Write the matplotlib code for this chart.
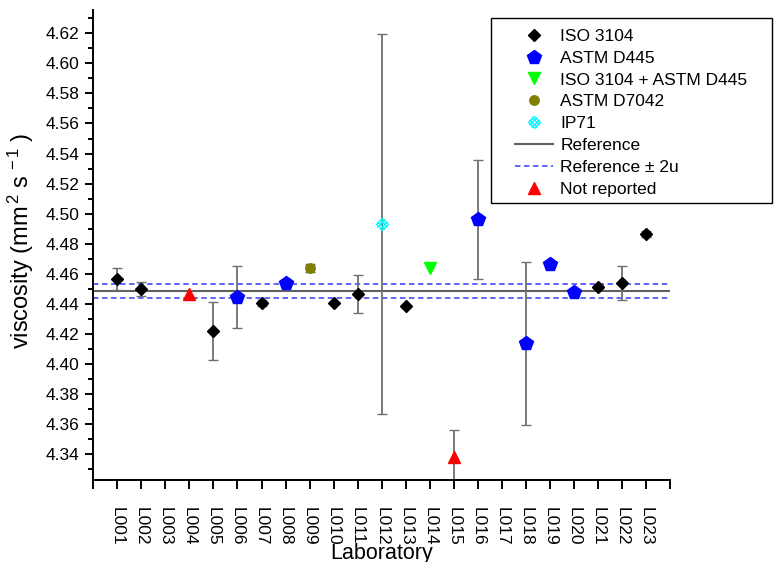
import numpy as np
import matplotlib
matplotlib.use('Agg')
import matplotlib.pyplot as plt
from matplotlib.path import Path
from matplotlib.lines import Line2D
from matplotlib.patches import Rectangle
from matplotlib.ticker import MultipleLocator, FormatStrFormatter

plt.rcParams['font.family'] = ['Liberation Sans', 'DejaVu Sans']
plt.rcParams['mathtext.fontset'] = 'custom'
plt.rcParams['mathtext.rm'] = 'Liberation Sans'
plt.rcParams['mathtext.it'] = 'Liberation Sans:italic'
plt.rcParams['mathtext.bf'] = 'Liberation Sans:bold'

# ---------------- data ----------------
lab_labels = ['L001', 'L002', 'L003', 'L004', 'L005', 'L006', 'L007', 'L008',
              'L009', 'L010', 'L011', 'L012', 'L013', 'L014', 'L015', 'L016',
              'L017', 'L018', 'L019', 'L020', 'L021', 'L022', 'L023']

iso_labs = ['L001', 'L002', 'L005', 'L007', 'L010', 'L011', 'L013', 'L021', 'L022', 'L023']
iso_vals = [4.4565, 4.4500, 4.4217, 4.4405, 4.4405, 4.4466, 4.4385, 4.4512, 4.4538, 4.4865]
iso_errs = [0.0075, 0.0045, 0.0193, 0.0018, 0.0, 0.0127, 0.0, 0.0012, 0.0113, 0.0018]

astm_labs = ['L006', 'L008', 'L016', 'L018', 'L019', 'L020']
astm_vals = [4.4446, 4.4538, 4.4962, 4.4137, 4.4667, 4.4477]
astm_errs = [0.0208, 0.0, 0.0394, 0.0543, 0.0, 0.0]

both_labs = ['L014']
both_vals = [4.4640]
both_errs = [0.0]

d7042_labs = ['L009']
d7042_vals = [4.4638]
d7042_errs = [0.0026]

ip71_labs = ['L012']
ip71_vals = [4.4931]
ip71_errs = [0.1262]

nr_labs = ['L004', 'L015']
nr_vals = [4.4465, 4.3378]
nr_errs = [0.0, 0.0182]

reference = 4.4488
two_u = 0.0046

# ---------------- figure ----------------
W, H = 774, 562
fig = plt.figure(figsize=(W / 100, H / 100), dpi=100)
ax = fig.add_axes([93.3 / W, 1 - 480 / H, (670 - 93.3) / W, (480 - 10) / H])

xpos = {lab: i + 1 for i, lab in enumerate(lab_labels)}

# custom IP71 marker (cross-hatched diamond)
ip_verts = [(0, 1), (1, 0), (0, -1), (-1, 0), (0, 1),
            (-0.85, 0.45), (0.45, -0.85),
            (-0.45, 0.85), (0.85, -0.45),
            (0.85, 0.45), (-0.45, -0.85),
            (0.45, 0.85), (-0.85, -0.45)]
ip_codes = [Path.MOVETO, Path.LINETO, Path.LINETO, Path.LINETO, Path.CLOSEPOLY,
            Path.MOVETO, Path.LINETO,
            Path.MOVETO, Path.LINETO,
            Path.MOVETO, Path.LINETO,
            Path.MOVETO, Path.LINETO]
ip_marker = Path(ip_verts, ip_codes)

D_MS = 6.4
series = [
    (iso_labs, iso_vals, iso_errs, dict(marker='D', color='black', ms=D_MS)),
    (astm_labs, astm_vals, astm_errs, dict(marker='p', color='#0000ff', ms=10)),
    (both_labs, both_vals, both_errs, dict(marker='v', color='#00ff00', ms=9)),
    (d7042_labs, d7042_vals, d7042_errs, dict(marker='o', color='#808000', ms=6.8)),
    (ip71_labs, ip71_vals, ip71_errs, dict(marker=ip_marker, color='#00ffff', ms=8.5,
                                           mfc='none', mew=1.0)),
    (nr_labs, nr_vals, nr_errs, dict(marker='^', color='#ff0000', ms=8.2)),
]

# reference lines
ax.axhline(reference, color='#606060', lw=1.5, zorder=1)
ax.axhline(reference + two_u, color='#5555ff', lw=1.3, ls=(0, (3, 2)), zorder=1)
ax.axhline(reference - two_u, color='#5555ff', lw=1.3, ls=(0, (3, 2)), zorder=1)

for labs, vals, errs, style in series:
    xs = np.array([xpos[l] for l in labs], dtype=float)
    vs = np.array(vals)
    es = np.array(errs)
    m = es > 0
    if m.any():
        eb = ax.errorbar(xs[m], vs[m], yerr=es[m], fmt='none', ecolor='#707070',
                         elinewidth=1.3, capsize=3.9, capthick=1.0, zorder=2)
        for cl in eb[1]:
            cl.set_color('black')
    kw = dict(style)
    color = kw.pop('color')
    mfc = kw.pop('mfc', color)
    ax.plot(xs, vs, ls='none', color=color, mfc=mfc, mec=color, zorder=3, **kw)

# axes styling
ax.set_xlim(0, 24)
ax.set_ylim(4.3228, 4.6355)
for s in ['top', 'right']:
    ax.spines[s].set_visible(False)
for s in ['left', 'bottom']:
    ax.spines[s].set_linewidth(1.4)

ax.set_xticks(range(0, 25))
ax.set_xticklabels([''] + lab_labels + [''], rotation=270, fontsize=12.5,
                   va='top', ha='center')
ax.yaxis.set_major_locator(MultipleLocator(0.02))
ax.yaxis.set_minor_locator(MultipleLocator(0.01))
ax.yaxis.set_major_formatter(FormatStrFormatter('%.2f'))
ax.tick_params(axis='x', direction='out', length=6.7, width=1.4, pad=13, labelsize=12.5)
ax.tick_params(axis='y', which='major', direction='out', length=6, width=1.4, pad=4,
               labelsize=12.5)
ax.tick_params(axis='y', which='minor', direction='out', length=3.5, width=1.4)

ax.set_xlabel('Laboratory', fontsize=15.5)
ax.xaxis.set_label_coords(0.5, -0.133)
ax.set_ylabel(r'viscosity (mm$^{\,2}$ s$^{\,-1}$ )', fontsize=17)
ax.yaxis.set_label_coords(-0.10, 0.51)

# legend
handles = [
    Line2D([], [], ls='none', marker='D', color='black', ms=D_MS),
    Line2D([], [], ls='none', marker='p', color='#0000ff', ms=10),
    Line2D([], [], ls='none', marker='v', color='#00ff00', ms=9),
    Line2D([], [], ls='none', marker='o', color='#808000', ms=6.8),
    Line2D([], [], ls='none', marker=ip_marker, color='#00ffff', mfc='none', ms=8.5, mew=1.0),
    Line2D([], [], color='#606060', lw=1.5),
    Line2D([], [], color='#5555ff', lw=1.3, ls=(0, (3, 2))),
    Line2D([], [], ls='none', marker='^', color='#ff0000', ms=8.2),
]
labels = ['ISO 3104', 'ASTM D445', 'ISO 3104 + ASTM D445', 'ASTM D7042', 'IP71',
          'Reference', 'Reference ± 2u', 'Not reported']
leg = fig.legend(handles, labels, loc='upper left', bbox_to_anchor=(515 / W, 1 - 28.5 / H),
                 frameon=False, fontsize=12.5, borderpad=0, borderaxespad=0,
                 handlelength=2.2, handletextpad=0.4, labelspacing=0.39)
fig.add_artist(Rectangle((491 / W, 1 - 203 / H), (772 - 491) / W, (203 - 18) / H,
                         transform=fig.transFigure, fill=False, edgecolor='black', lw=1.0))

fig.savefig('out.png', dpi=100)
